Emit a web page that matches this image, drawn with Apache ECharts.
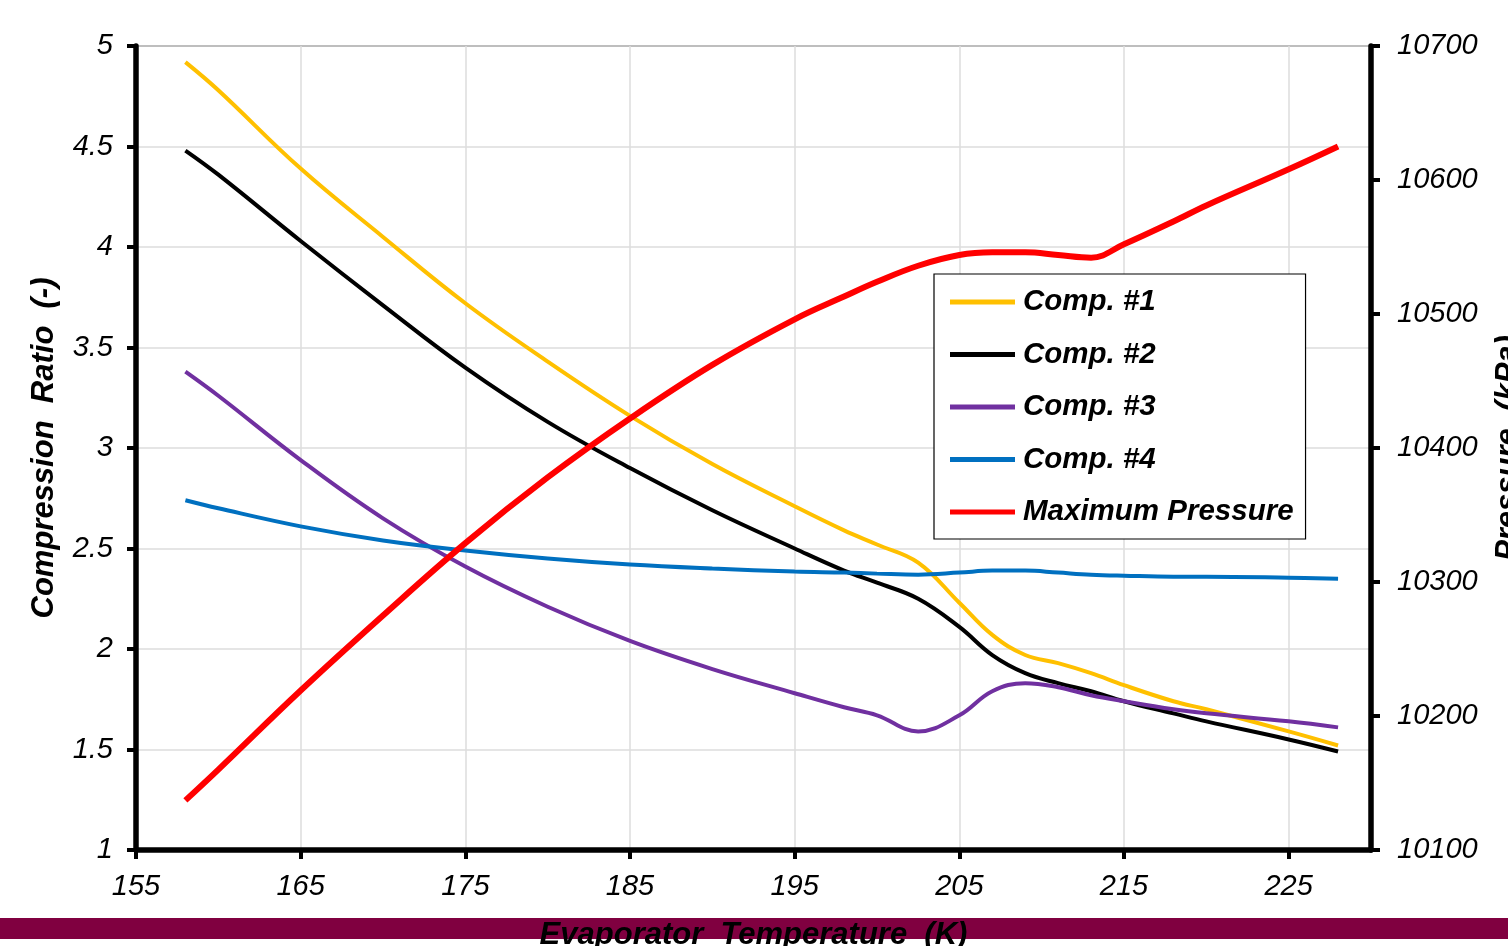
<!DOCTYPE html>
<html>
<head>
<meta charset="utf-8">
<script src="https://cdn.jsdelivr.net/npm/echarts@6/dist/echarts.min.js"></script>
<style>
  html, body { margin: 0; padding: 0; background: #fff; }
  #chart { width: 1508px; height: 946px; }
</style>
</head>
<body>
<div id="chart"></div>
<script>
// evaporator temperature (K)
var temps = [158, 160, 165, 170, 175, 180, 185, 190, 195, 198, 200, 202.5, 205, 207, 209, 211, 213, 215, 218, 220, 225, 228];

// compression ratio (-)
var comp1 = [4.92, 4.78, 4.39, 4.05, 3.72, 3.43, 3.16, 2.92, 2.71, 2.59, 2.52, 2.43, 2.23, 2.07, 1.97, 1.93, 1.88, 1.82, 1.74, 1.70, 1.59, 1.52];
var comp2 = [4.48, 4.36, 4.03, 3.71, 3.40, 3.13, 2.90, 2.69, 2.50, 2.39, 2.33, 2.25, 2.11, 1.97, 1.88, 1.83, 1.79, 1.74, 1.68, 1.64, 1.55, 1.49];
var comp3 = [3.38, 3.26, 2.94, 2.65, 2.41, 2.21, 2.04, 1.90, 1.78, 1.71, 1.67, 1.59, 1.67, 1.79, 1.83, 1.81, 1.77, 1.74, 1.70, 1.68, 1.64, 1.61];
var comp4 = [2.74, 2.70, 2.61, 2.54, 2.49, 2.45, 2.42, 2.40, 2.385, 2.38, 2.375, 2.37, 2.38, 2.39, 2.39, 2.38, 2.37, 2.365, 2.36, 2.36, 2.355, 2.35];

// maximum pressure (kPa)
var maxPressure = [10137, 10160, 10219, 10275, 10329, 10378, 10422, 10462, 10496, 10513, 10524, 10536, 10544, 10546, 10546, 10544, 10542, 10552, 10569, 10581, 10608, 10625];

var names = ["Comp. #1", "Comp. #2", "Comp. #3", "Comp. #4", "Maximum Pressure"];
var colors = ["#FFC000", "#000000", "#7030A0", "#0070C0", "#FF0000"];

function pairs(ys) {
  return temps.map(function (t, i) { return [t, ys[i]]; });
}

var font = "'Liberation Sans', Arial, sans-serif";
var tickFont = { color: "#000", fontFamily: font, fontStyle: "italic", fontSize: 29 };
var titleFont = { color: "#000", fontFamily: font, fontStyle: "italic", fontWeight: "bold", fontSize: 31 };

var myChart = echarts.init(document.getElementById("chart"));

var series = [comp1, comp2, comp3, comp4].map(function (ys, i) {
  return {
    name: names[i],
    type: "line",
    yAxisIndex: 0,
    smooth: 0.4,
    showSymbol: false,
    lineStyle: { color: colors[i], width: 4 },
    itemStyle: { color: colors[i] },
    data: pairs(ys),
  };
});
series.push({
  name: names[4],
  type: "line",
  yAxisIndex: 1,
  smooth: 0.4,
  showSymbol: false,
  lineStyle: { color: colors[4], width: 6 },
  itemStyle: { color: colors[4] },
  data: pairs(maxPressure),
});

myChart.setOption({
  animation: false,
  backgroundColor: "#fff",
  grid: {
    left: 136,
    right: 137,
    top: 46,
    bottom: 96,
    containLabel: false,
    outerBoundsMode: "none",
    show: true,
    borderColor: "#333",
    borderWidth: 1.5,
  },
  graphic: [
    {
      type: "rect",
      z: -100,
      shape: { x: 0, y: 918, width: 1508, height: 21 },
      style: { fill: "#800040" },
    },
  ],
  legend: {
    orient: "vertical",
    left: 934,
    top: 274,
    padding: [13, 12, 12, 16],
    itemGap: 22.5,
    itemWidth: 65,
    itemHeight: 5,
    icon: "rect",
    borderColor: "#000",
    borderWidth: 1.2,
    backgroundColor: "#fff",
    textStyle: { color: "#000", fontFamily: font, fontStyle: "italic", fontWeight: "bold", fontSize: 29.5, lineHeight: 30, padding: [0, 0, 0, 3] },
    data: names,
  },
  xAxis: {
    type: "value",
    min: 155,
    max: 230,
    interval: 10,
    name: "Evaporator  Temperature  (K)",
    nameLocation: "middle",
    nameGap: 70,
    nameTextStyle: titleFont,
    axisLine: { lineStyle: { color: "#000", width: 5.5 } },
    axisTick: { length: 9, lineStyle: { color: "#000", width: 4 } },
    axisLabel: Object.assign({ margin: 22, showMaxLabel: false }, tickFont),
    splitLine: { show: true, lineStyle: { color: "#dcdcdc", width: 1.5 } },
  },
  yAxis: [
    {
      type: "value",
      min: 1,
      max: 5,
      interval: 0.5,
      name: "Compression  Ratio  (-)",
      nameLocation: "middle",
      nameGap: 76,
      nameRotate: 90,
      nameTextStyle: titleFont,
      axisLine: { show: true, lineStyle: { color: "#000", width: 5.5 } },
      axisTick: { show: true, length: 9, lineStyle: { color: "#000", width: 4 } },
      axisLabel: Object.assign({ margin: 23, formatter: function (v) { return String(v); } }, tickFont),
      splitLine: { show: true, lineStyle: { color: "#dcdcdc", width: 1.5 } },
    },
    {
      type: "value",
      min: 10100,
      max: 10700,
      interval: 100,
      position: "right",
      name: "Pressure  (kPa)",
      nameLocation: "middle",
      nameGap: 122,
      nameRotate: 90,
      nameTextStyle: titleFont,
      axisLine: { show: true, lineStyle: { color: "#000", width: 5.5 } },
      axisTick: { show: true, length: 9, lineStyle: { color: "#000", width: 4 } },
      axisLabel: Object.assign({ margin: 26, formatter: function (v) { return String(v); } }, tickFont),
      splitLine: { show: false },
    },
  ],
  series: series,
});
</script>
</body>
</html>
